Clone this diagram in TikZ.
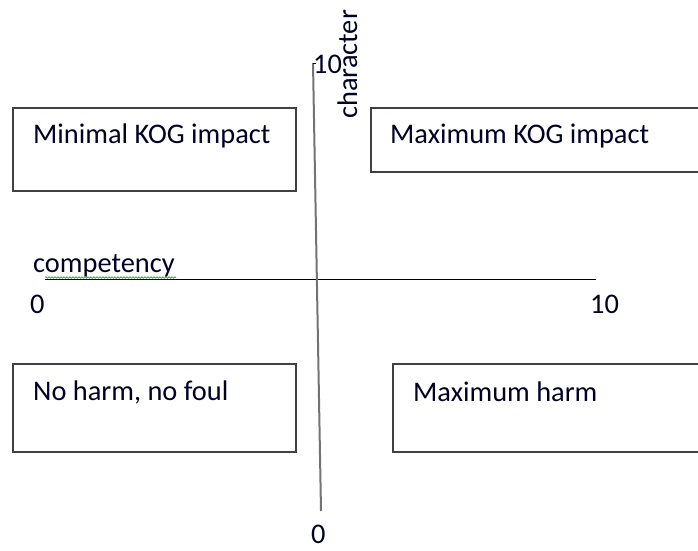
\documentclass[tikz,border=0pt]{standalone}
\usepackage{fontspec}
\setmainfont{Carlito}
\usetikzlibrary{decorations.pathmorphing}
\begin{document}
\begin{tikzpicture}[x=1pt,y=-1pt,
  quad/.style={draw=black!75,line width=1.2pt},
  lbl/.style={anchor=base west,inner sep=0pt,font=\fontsize{28.4}{31}\selectfont,text=black!85!blue},
  axisline/.style={line width=1pt}]
\useasboundingbox (0,0) rectangle (698,550);
% boxes
\draw[quad] (13,108) rectangle (296,191);
\draw[quad] (371,108) rectangle (704,172);
\draw[quad] (13,364) rectangle (296,452);
\draw[quad] (393,364) rectangle (704,452);
\node[lbl] (minimal) at (33,143) {Minimal KOG impact};
\node[lbl] (maximum) at (390,143) {Maximum KOG impact};
\node[lbl] (noharm) at (33,400) {No harm, no foul};
\node[lbl] (maxharm) at (413,401) {Maximum harm};
% axes
\coordinate (hl) at (45,279);
\coordinate (hr) at (596,279);
\coordinate (vt) at (313,63);
\coordinate (vb) at (321,511);
\draw[axisline] (hl) -- (hr);
\draw[line width=2pt,black!55] (vt) -- (vb);
\draw[line width=0.8pt] (vt) -- ++(3,0);
% labels
\node[lbl] (comp) at (33,272) {competency};
\draw[green!60!black,line width=0.6pt,decorate,decoration={snake,amplitude=0.8pt,segment length=3pt}] (45,277.5) -- (176,277.5);
\node[lbl] (xzero) at (30,313) {0};
\node[lbl] (xten) at (590,313) {10};
\node[lbl] (yten) at (313,73) {10};
\node[lbl] (yzero) at (311,543) {0};
\node[lbl,rotate=90] (char) at (357,119) {character};
\end{tikzpicture}
\end{document}
